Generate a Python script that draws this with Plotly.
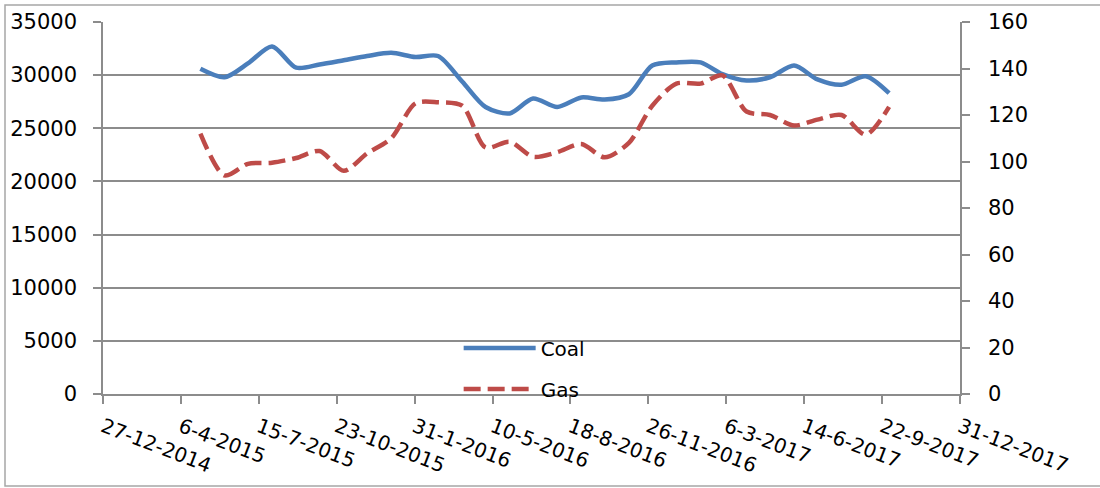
import plotly.graph_objects as go
from datetime import date, timedelta

# ---- data ----
months = ["2015-05-01", "2015-06-01", "2015-07-01", "2015-08-01", "2015-09-01",
          "2015-10-01", "2015-11-01", "2015-12-01", "2016-01-01", "2016-02-01",
          "2016-03-01", "2016-04-01", "2016-05-01", "2016-06-01", "2016-07-01",
          "2016-08-01", "2016-09-01", "2016-10-01", "2016-11-01", "2016-12-01",
          "2017-01-01", "2017-02-01", "2017-03-01", "2017-04-01", "2017-05-01",
          "2017-06-01", "2017-07-01", "2017-08-01", "2017-09-01", "2017-10-01"]
coal = [30600, 29800, 31100, 32700, 30700, 31000, 31400, 31800, 32100, 31700,
        31800, 29400, 27000, 26400, 27800, 27000, 27900, 27700, 28200, 30900,
        31200, 31200, 30100, 29500, 29800, 30900, 29600, 29100, 29900, 28300]
gas = [112, 94, 99, 99.5, 101.5, 104.5, 96, 103.5, 110, 125,
       125.5, 124, 106, 108.5, 102, 104, 107.5, 101.8, 108, 124,
       133.5, 133.5, 137, 121.5, 120, 115.5, 118, 120, 111.5, 123.5]

x_start = "2014-12-27"
x_end = "2017-12-31"
tick_step_days = 100
n_ticks = 12
tick_labels = ["27-12-2014", "6-4-2015", "15-7-2015", "23-10-2015", "31-1-2016",
               "10-5-2016", "18-8-2016", "26-11-2016", "6-3-2017", "14-6-2017",
               "22-9-2017", "31-12-2017"]

d0 = date(2014, 12, 27)
tick_vals = [(d0 + timedelta(days=tick_step_days * i)).isoformat() for i in range(n_ticks)]

BLUE = "#4A7EBB"
RED = "#BE4B48"
GRID = "#8C8C8C"
FONT = "DejaVu Sans"

fig = go.Figure()
fig.add_trace(go.Scatter(x=months, y=coal, name="Coal", mode="lines",
                         line=dict(color=BLUE, width=4.5, shape="spline", smoothing=0.8),
                         legend="legend"))
fig.add_trace(go.Scatter(x=months, y=gas, name="Gas", mode="lines", yaxis="y2",
                         line=dict(color=RED, width=4.5, shape="spline", smoothing=0.8,
                                   dash="17px,7px"),
                         legend="legend2"))

fig.update_layout(
    width=1100, height=488,
    margin=dict(l=103, r=140, t=22, b=94),
    paper_bgcolor="white", plot_bgcolor="white",
    font=dict(family=FONT, size=20, color="black"),
    showlegend=True,
    xaxis=dict(type="date", range=[x_start, x_end], tickmode="array",
               tickvals=tick_vals, ticktext=tick_labels, tickangle=21,
               showgrid=False, showline=True, linecolor=GRID, linewidth=1.5,
               ticks="outside", ticklen=8, tickcolor=GRID, tickwidth=1.5,
               zeroline=False, tickfont=dict(size=20), automargin=False,
               ticklabelstandoff=4),
    yaxis=dict(range=[0, 35000], dtick=5000, showgrid=True, gridcolor=GRID,
               gridwidth=1.5, showline=True, linecolor=GRID, linewidth=1.5,
               ticks="outside", ticklen=8, tickcolor=GRID, tickwidth=1.5,
               zeroline=False, tickformat="d", ticklabelstandoff=12,
               tickfont=dict(size=21), automargin=False),
    yaxis2=dict(range=[0, 160], dtick=20, overlaying="y", side="right",
                showgrid=False, showline=True, linecolor=GRID, linewidth=1.5,
                ticks="outside", ticklen=8, tickcolor=GRID, tickwidth=1.5,
                zeroline=False, ticklabelstandoff=14,
                tickfont=dict(size=21), automargin=False),
    legend=dict(x=0.415, y=0.1237, xanchor="left", yanchor="middle",
                bgcolor="rgba(0,0,0,0)", itemwidth=72, font=dict(size=20)),
    legend2=dict(x=0.415, y=0.0134, xanchor="left", yanchor="middle",
                 bgcolor="rgba(0,0,0,0)", itemwidth=72, font=dict(size=20)),
    shapes=[dict(type="rect", xref="paper", yref="paper",
                 x0=(5 - 103) / 857, x1=(1110 - 103) / 857,
                 y0=(394 - 486) / 372, y1=(394 - 5) / 372,
                 line=dict(color="#A6A6A6", width=1.5), fillcolor="rgba(0,0,0,0)",
                 layer="below")],
)

fig.write_html("out.html", config={"displayModeBar": False},
               post_script="document.body.style.margin='0';document.body.style.padding='0';")
